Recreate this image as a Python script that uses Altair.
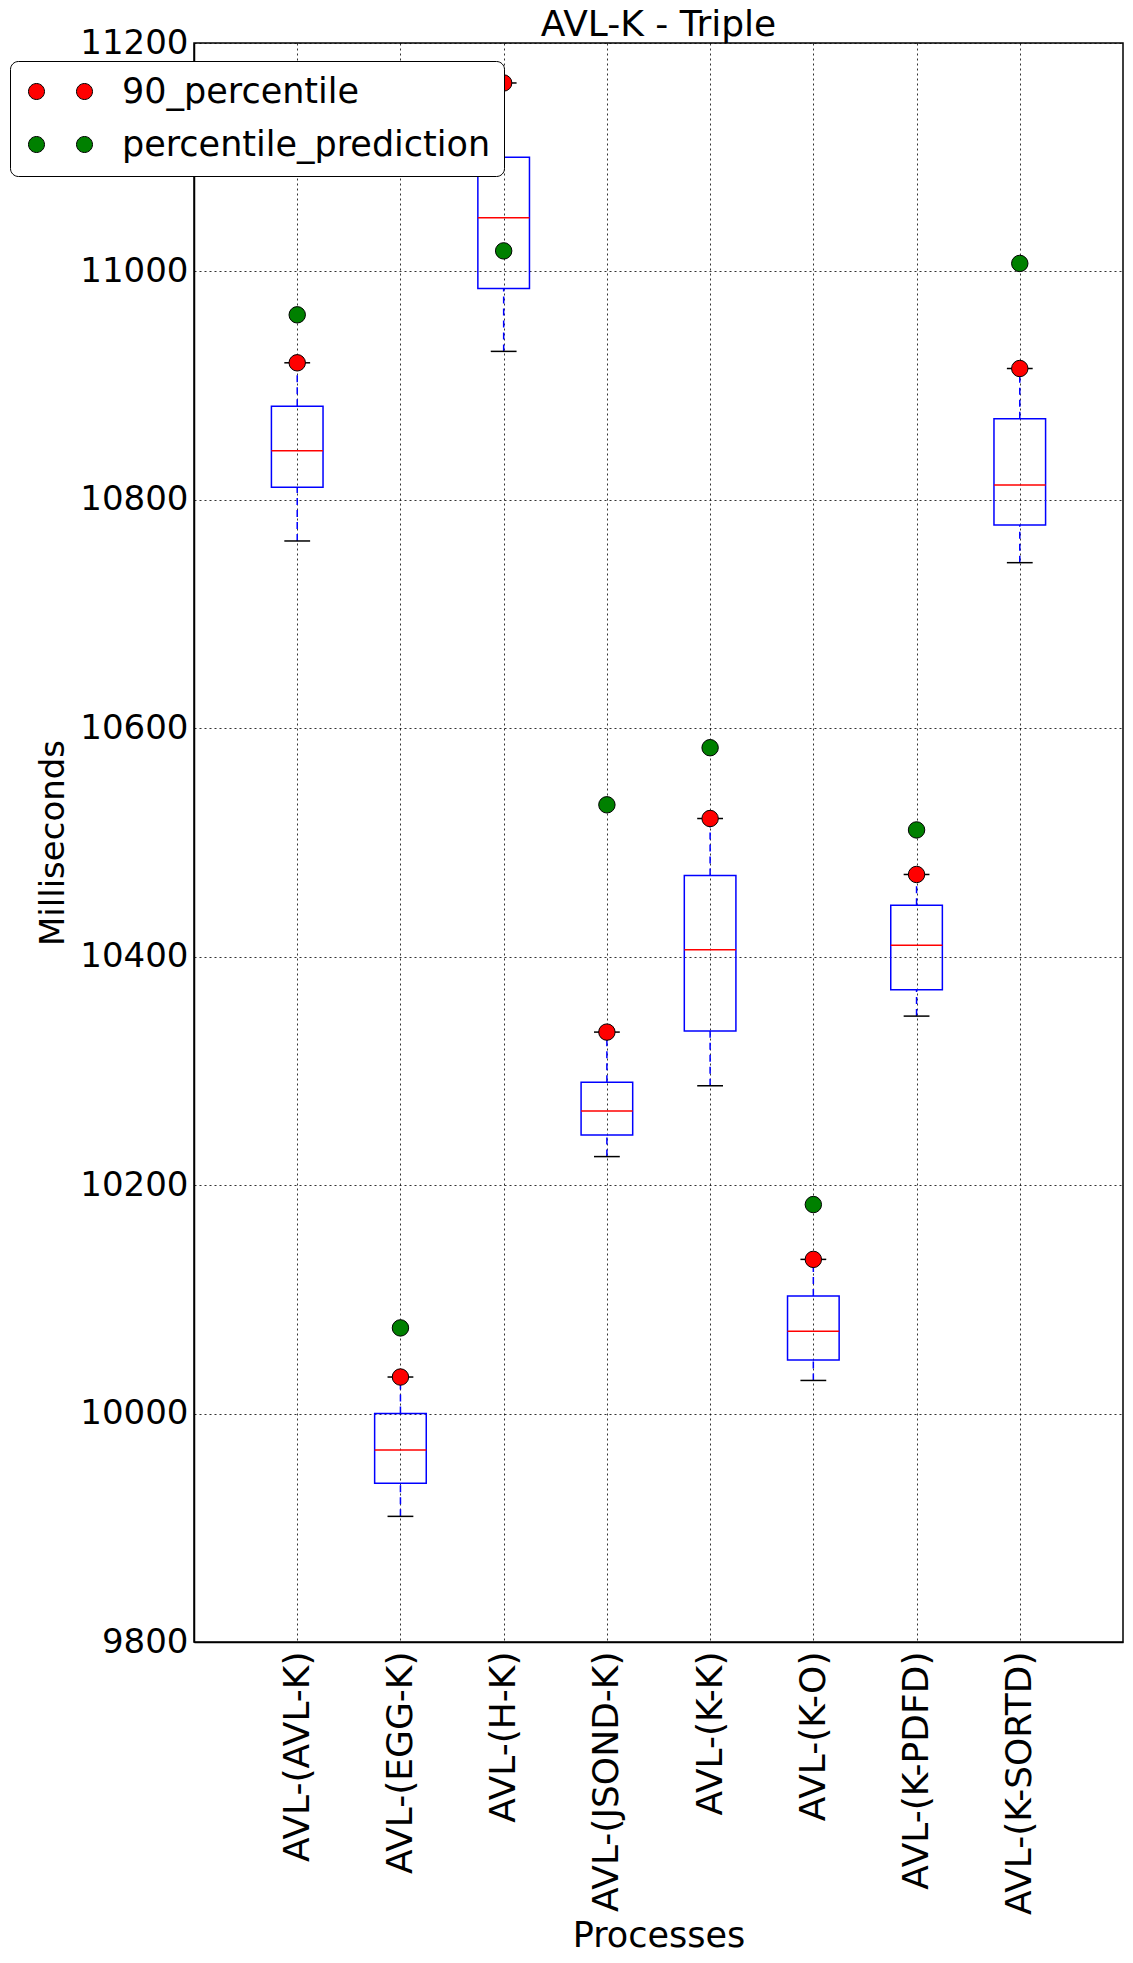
import altair as alt
import pandas as pd

categories = ["AVL-(AVL-K)", "AVL-(EGG-K)", "AVL-(H-K)", "AVL-(JSOND-K)",
              "AVL-(K-K)", "AVL-(K-O)", "AVL-(K-PDFD)", "AVL-(K-SORTD)"]
q1 = [10811, 9939, 10985, 10244, 10335, 10047, 10371, 10778]
median = [10843, 9968, 11047, 10265, 10406, 10072, 10410, 10813]
q3 = [10882, 10000, 11100, 10290, 10471, 10103, 10445, 10871]
whisker_low = [10764, 9910, 10930, 10225, 10287, 10029, 10348, 10745]
percentile_90 = [10920, 10032, 11165, 10334, 10521, 10135, 10472, 10915]
percentile_prediction = [10962, 10075, 11018, 10533, 10583, 10183, 10511, 11007]

positions = list(range(1, len(categories) + 1))
box_df = pd.DataFrame({
    "pos": positions,
    "name": categories,
    "q1": q1, "median": median, "q3": q3,
    "low": whisker_low, "p90": percentile_90,
})
box_df["left"] = box_df["pos"] - 0.25
box_df["right"] = box_df["pos"] + 0.25
box_df["cap_l"] = box_df["pos"] - 0.125
box_df["cap_r"] = box_df["pos"] + 0.125

pts_df = pd.concat([
    pd.DataFrame({"pos": positions, "value": percentile_90, "series": "90_percentile"}),
    pd.DataFrame({"pos": positions, "value": percentile_prediction, "series": "percentile_prediction"}),
])

FONT = "DejaVu Sans"
label_expr = "[''," + ",".join("'%s'" % c for c in categories) + ",''][datum.value]"

xscale = alt.Scale(domain=[0, 9], nice=False, zero=False)
yscale = alt.Scale(domain=[9800, 11200], nice=False, zero=False)

x_axis = alt.Axis(values=positions, labelExpr=label_expr, labelAngle=-90, labelLimit=500,
                  labelFontSize=36, labelFont=FONT, labelColor="black", labelPadding=9,
                  title="Processes", titleFontSize=35, titleFont=FONT, titleFontWeight="normal",
                  titleColor="black", titleY=293, titleBaseline="middle",
                  grid=True, gridDash=[2, 3], gridColor="black", gridOpacity=0.8,
                  ticks=False, domainColor="black", domainWidth=1.5)
y_axis = alt.Axis(values=list(range(9800, 11201, 200)), format="d",
                  labelFontSize=34, labelFont=FONT, labelColor="black", labelPadding=6,
                  title="Milliseconds", titleFontSize=34, titleFont=FONT, titleFontWeight="normal",
                  titleColor="black", titlePadding=9,
                  grid=True, gridDash=[2, 3], gridColor="black", gridOpacity=0.8,
                  ticks=False, domainColor="black", domainWidth=1.5)

base = alt.Chart(box_df)

boxes = base.mark_rect(fillOpacity=0, stroke="blue", strokeWidth=1.5).encode(
    x=alt.X("left:Q", scale=xscale, axis=x_axis),
    x2="right:Q",
    y=alt.Y("q1:Q", scale=yscale, axis=y_axis),
    y2="q3:Q",
)
medians = base.mark_rule(color="red", strokeWidth=1.5).encode(
    x="left:Q", x2="right:Q", y="median:Q")
whisk_lo = base.mark_rule(color="blue", strokeWidth=1.5, strokeDash=[7, 5]).encode(
    x="pos:Q", y="low:Q", y2="q1:Q")
whisk_hi = base.mark_rule(color="blue", strokeWidth=1.5, strokeDash=[7, 5]).encode(
    x="pos:Q", y="q3:Q", y2="p90:Q")
cap_lo = base.mark_rule(color="black", strokeWidth=1.5).encode(
    x="cap_l:Q", x2="cap_r:Q", y="low:Q")
cap_hi = base.mark_rule(color="black", strokeWidth=1.5).encode(
    x="cap_l:Q", x2="cap_r:Q", y="p90:Q")

# legend glyph: two markers side by side (as matplotlib draws with numpoints=2)
two_dots = ("M-0.75,0A0.5,0.5,0,1,0,0.25,0A0.5,0.5,0,1,0,-0.75,0Z"
            "M2.25,0A0.5,0.5,0,1,0,3.25,0A0.5,0.5,0,1,0,2.25,0Z")

points = alt.Chart(pts_df).mark_point(filled=True, size=270, opacity=1,
                                      stroke="black", strokeWidth=1).encode(
    x="pos:Q",
    y="value:Q",
    color=alt.Color("series:N",
                    scale=alt.Scale(domain=["90_percentile", "percentile_prediction"],
                                    range=["#ff0000", "#008000"]),
                    legend=alt.Legend(orient="none", legendX=-184, legendY=18, title=None,
                                      fillColor="white", strokeColor="black", cornerRadius=8,
                                      padding=13, labelFont=FONT, labelFontSize=35,
                                      labelColor="black", labelOffset=64, labelLimit=600,
                                      symbolType=two_dots, symbolSize=1024,
                                      symbolStrokeColor="black", symbolStrokeWidth=1,
                                      symbolOpacity=1, rowPadding=17)),
)

chart = alt.layer(boxes, medians, whisk_lo, whisk_hi, cap_lo, cap_hi, points).properties(
    width=929, height=1599,
    title=alt.TitleParams("AVL-K - Triple", font=FONT, fontSize=36, fontWeight="normal",
                          color="black", anchor="middle", offset=-18),
    autosize=alt.AutoSizeParams(type="none"),
    padding={"left": 194, "top": 43, "right": 10, "bottom": 321},
    background="white",
).configure_view(stroke="black", strokeWidth=1.5)

chart.save("out.html", embed_options={"renderer": "svg", "actions": False})
